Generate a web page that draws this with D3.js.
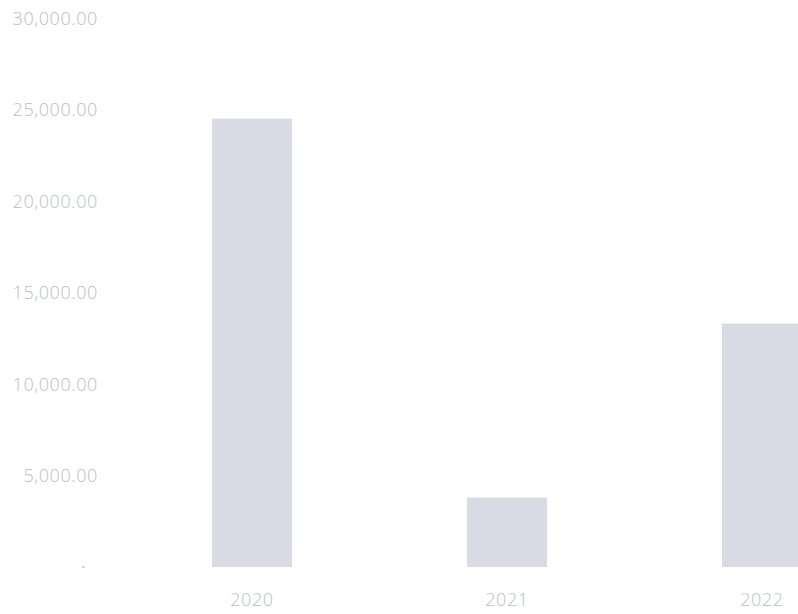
<!DOCTYPE html>
<html>
<head>
<meta charset="utf-8">
<script src="https://cdn.jsdelivr.net/npm/d3@7"></script>
<style>
  html, body { margin: 0; padding: 0; background: #ffffff; }
  svg { display: block; }
  text { font-family: "Open Sans", sans-serif; font-weight: 300; }
</style>
</head>
<body>
<svg id="chart" width="798" height="614"></svg>
<script>
const categories = ["2020", "2021", "2022"];
const values = [24500, 3800, 13300];
const yTicks = [5000, 10000, 15000, 20000, 25000, 30000];

const svg = d3.select("#chart");
const baseY = 567, topY = 18;

const y = d3.scaleLinear().domain([0, 30000]).range([baseY, topY]);
const x = d3.scaleBand().domain(categories).range([124.5, 889.5])
  .paddingInner(0.686).paddingOuter(0.343);

const textColor = "#b9bdcb";
const barColor = "#d9dbe4";

// bars
svg.append("g").selectAll("rect").data(categories).join("rect")
  .attr("x", d => x(d))
  .attr("y", (d, i) => y(values[i]))
  .attr("width", x.bandwidth())
  .attr("height", (d, i) => y(0) - y(values[i]))
  .attr("fill", barColor);

// y axis
const yAxis = d3.axisLeft(y).tickValues(yTicks)
  .tickFormat(d3.format(",.2f")).tickSize(0).tickPadding(0);
const gy = svg.append("g").attr("transform", "translate(98,0)").call(yAxis);
gy.select(".domain").remove();
gy.selectAll("text").attr("fill", textColor).style("font-size", "18px")
  .style("letter-spacing", "0.6px").attr("dy", "0.35em");

// zero mark
svg.append("line").attr("x1", 82).attr("x2", 85)
  .attr("y1", y(0)).attr("y2", y(0))
  .attr("stroke", "#c8cbd4").attr("stroke-width", 1.5);

// x axis
const xAxis = d3.axisBottom(x).tickSize(0).tickPadding(0);
const gx = svg.append("g").attr("transform", `translate(0,${baseY + 33})`).call(xAxis);
gx.select(".domain").remove();
gx.selectAll("text").attr("fill", textColor).style("font-size", "18px")
  .style("letter-spacing", "0.6px").attr("dy", "0.35em");
</script>
</body>
</html>
